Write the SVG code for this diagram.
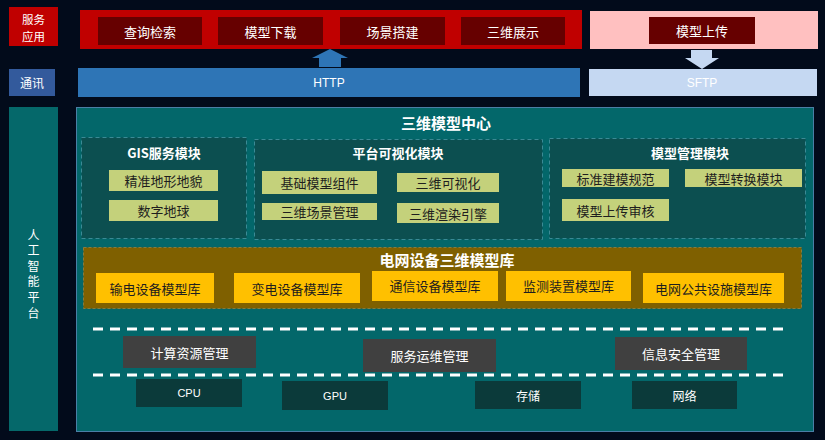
<svg xmlns="http://www.w3.org/2000/svg" width="825" height="440" viewBox="0 0 825 440">
<style>
text{font-family:"Noto Sans CJK SC","Liberation Sans",sans-serif;text-anchor:middle;dominant-baseline:central}
.w{fill:#ffffff;font-size:13px}
.d{fill:#1e1e1e;font-size:13px}
.t{fill:#ffffff;font-size:13px;font-weight:bold}
.big{fill:#ffffff;font-size:15px;font-weight:bold}
.lat{font-family:"Liberation Sans","Noto Sans",sans-serif;fill:#ffffff;font-size:12px}
.redbox{fill:#660000}
.item{fill:#c4d17b}
.lib{fill:#ffc000}
.gray{fill:#404040}
.dark{fill:#0b3a3a}
.mod{fill:#0c4f50;stroke:#3b8a95;stroke-width:1;stroke-dasharray:4 3}
.sep{stroke:#ffffff;stroke-width:3;stroke-dasharray:10 7;fill:none}
</style>
<rect width="825" height="440" fill="#020b1b"/>

<g id="label-service">
<rect x="9" y="7" width="49" height="39" fill="#c00000"/>
<text class="w" x="33.5" y="18.5" style="font-size:11.5px">服务</text>
<text class="w" x="33.5" y="35.5" style="font-size:11.5px">应用</text>
</g>
<g id="label-comm">
<rect x="9" y="69" width="46" height="27" fill="#335a9c"/>
<text class="w" x="32" y="82.5" style="font-size:12px">通讯</text>
</g>
<g id="label-ai">
<rect x="9" y="107" width="49" height="324" fill="#05686a"/>
<text class="w" x="33.5" y="229" style="font-size:12px;writing-mode:vertical-rl;letter-spacing:3.6px;text-anchor:start;dominant-baseline:auto">人工智能平台</text>
</g>

<g id="service-bar">
<rect x="80" y="10" width="502" height="39" fill="#c00000"/>
</g>
<g id="query"><rect class="redbox" x="98" y="17" width="104" height="28"/><text class="w" x="150" y="31">查询检索</text></g>
<g id="download"><rect class="redbox" x="218" y="17" width="105" height="28"/><text class="w" x="270.5" y="31">模型下载</text></g>
<g id="scene"><rect class="redbox" x="340" y="17" width="105" height="28"/><text class="w" x="392.5" y="31">场景搭建</text></g>
<g id="display"><rect class="redbox" x="461" y="17" width="104" height="28"/><text class="w" x="513" y="31">三维展示</text></g>

<g id="upload-bar"><rect x="590" y="11" width="228" height="38" fill="#ffc0c0"/></g>
<g id="upload"><rect class="redbox" x="649" y="17" width="106" height="27"/><text class="w" x="702" y="30.5">模型上传</text></g>

<g id="http"><rect x="78" y="68" width="502" height="29" fill="#2e75b6"/><text class="lat" x="329" y="83">HTTP</text></g>
<g id="sftp"><rect x="589" y="69" width="228" height="27" fill="#c5d8f2"/><text class="lat" x="702" y="83">SFTP</text></g>

<g id="connectors">
<polygon points="330,49 348,58 341,58 341,67 319,67 319,58 312,58" fill="#2e75b6"/>
<polygon points="691,50 712,50 712,58 719,58 702,69 685,58 691,58" fill="#c5d8f2"/>
</g>

<g id="center">
<rect x="76.5" y="107.5" width="737" height="324" fill="#03676a" stroke="#4a7fa6" stroke-width="1"/>
<text class="big" x="446" y="122">三维模型中心</text>
</g>

<g id="gis-module">
<rect class="mod" x="81.5" y="137.5" width="165" height="101"/>
<text class="t" x="164" y="152">GIS服务模块</text>
</g>
<g id="terrain"><rect class="item" x="109" y="170" width="109" height="21"/><text class="d" x="163.5" y="180.5">精准地形地貌</text></g>
<g id="earth"><rect class="item" x="109" y="200" width="109" height="21"/><text class="d" x="163.5" y="210.5">数字地球</text></g>

<g id="vis-module">
<rect class="mod" x="254.5" y="139.5" width="288" height="100"/>
<text class="t" x="398" y="152">平台可视化模块</text>
</g>
<g id="base-comp"><rect class="item" x="262" y="171" width="115" height="23"/><text class="d" x="319.5" y="182.5">基础模型组件</text></g>
<g id="scene-mgmt"><rect class="item" x="262" y="203" width="115" height="17"/><text class="d" x="319.5" y="211.5">三维场景管理</text></g>
<g id="vis3d"><rect class="item" x="397" y="173" width="102" height="19"/><text class="d" x="448" y="182.5">三维可视化</text></g>
<g id="render"><rect class="item" x="397" y="203" width="102" height="20"/><text class="d" x="448" y="213">三维渲染引擎</text></g>

<g id="model-module">
<rect class="mod" x="549.5" y="138.5" width="256" height="100"/>
<text class="t" x="690" y="152">模型管理模块</text>
</g>
<g id="standard"><rect class="item" x="562" y="169" width="107" height="18"/><text class="d" x="615.5" y="178">标准建模规范</text></g>
<g id="convert"><rect class="item" x="685" y="169" width="117" height="18"/><text class="d" x="743.5" y="178">模型转换模块</text></g>
<g id="review"><rect class="item" x="562" y="199" width="107" height="22"/><text class="d" x="615.5" y="210">模型上传审核</text></g>

<g id="grid-lib">
<rect x="83.5" y="247.5" width="718" height="61" fill="#7f6000" stroke="#8a7a3a" stroke-width="1" stroke-dasharray="3 2"/>
<text class="big" x="447" y="259">电网设备三维模型库</text>
</g>
<g id="lib-trans"><rect class="lib" x="96" y="273" width="118" height="30"/><text class="d" x="155" y="288">输电设备模型库</text></g>
<g id="lib-sub"><rect class="lib" x="234" y="273" width="126" height="30"/><text class="d" x="297" y="288">变电设备模型库</text></g>
<g id="lib-comm"><rect class="lib" x="372" y="271" width="126" height="30"/><text class="d" x="435" y="285">通信设备模型库</text></g>
<g id="lib-mon"><rect class="lib" x="506" y="271" width="125" height="30"/><text class="d" x="568.5" y="285">监测装置模型库</text></g>
<g id="lib-pub"><rect class="lib" x="643" y="273" width="141" height="30"/><text class="d" x="713.5" y="288">电网公共设施模型库</text></g>

<line class="sep" x1="93" y1="329" x2="784" y2="329"/>
<line class="sep" x1="93" y1="375" x2="784" y2="375"/>

<g id="compute"><rect class="gray" x="123" y="336" width="133" height="32"/><text class="w" x="189.5" y="352">计算资源管理</text></g>
<g id="ops"><rect class="gray" x="363" y="339" width="133" height="33"/><text class="w" x="429.5" y="355.5">服务运维管理</text></g>
<g id="security"><rect class="gray" x="615" y="337" width="132" height="33"/><text class="w" x="681" y="353.5">信息安全管理</text></g>

<g id="cpu"><rect class="dark" x="136" y="379" width="106" height="28"/><text class="lat" x="189" y="393" style="font-size:11px">CPU</text></g>
<g id="gpu"><rect class="dark" x="282" y="381" width="106" height="29"/><text class="lat" x="335" y="396" style="font-size:11px">GPU</text></g>
<g id="storage"><rect class="dark" x="475" y="381" width="106" height="28"/><text class="w" x="528" y="395" style="font-size:12px">存储</text></g>
<g id="network"><rect class="dark" x="632" y="381" width="105" height="28"/><text class="w" x="684.5" y="395" style="font-size:12px">网络</text></g>
</svg>
